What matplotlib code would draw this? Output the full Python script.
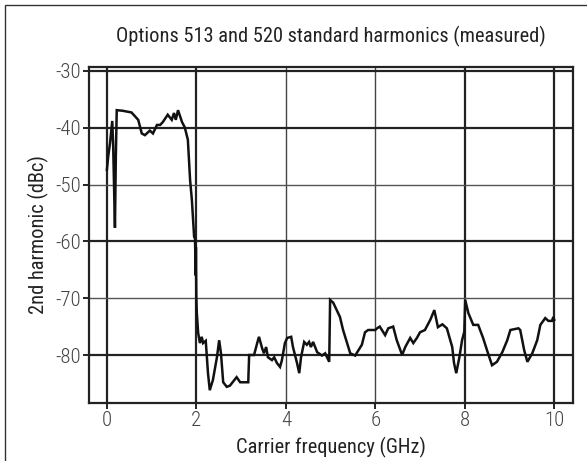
import matplotlib
matplotlib.use("Agg")
import matplotlib.pyplot as plt
from matplotlib.patches import Rectangle
from matplotlib import font_manager

names = {f.name for f in font_manager.fontManager.ttflist}
fam = ['Roboto Condensed'] if 'Roboto Condensed' in names else ['Roboto']
plt.rcParams['font.family'] = fam + ['DejaVu Sans']
condensed = fam[0] == 'Roboto Condensed'

freq_ghz = [0.0, 0.03, 0.07, 0.12, 0.14, 0.18, 0.2, 0.22, 0.35, 0.55, 0.7, 0.78, 0.85, 0.96, 1.03,
            1.12, 1.19, 1.25, 1.36, 1.45, 1.5, 1.54, 1.59, 1.68, 1.74, 1.81, 1.86, 1.9, 1.95, 1.97,
            1.985, 1.99, 2.0, 2.01, 2.04, 2.08, 2.12, 2.15, 2.21, 2.26, 2.3, 2.37, 2.46, 2.51, 2.55,
            2.6, 2.68, 2.75, 2.9, 2.98, 3.16, 3.18, 3.29, 3.36, 3.4, 3.47, 3.51, 3.56, 3.6, 3.69,
            3.74, 3.8, 3.87, 3.91, 3.98, 4.03, 4.12, 4.16, 4.25, 4.3, 4.34, 4.41, 4.47, 4.52, 4.56,
            4.61, 4.7, 4.81, 4.88, 4.97, 4.99, 5.06, 5.21, 5.28, 5.37, 5.44, 5.55, 5.7, 5.77, 5.84,
            6.0, 6.04, 6.1, 6.22, 6.29, 6.4, 6.48, 6.6, 6.67, 6.78, 6.85, 6.93, 7.0, 7.11, 7.23,
            7.32, 7.4, 7.5, 7.6, 7.72, 7.76, 7.81, 7.88, 7.94, 7.99, 8.01, 8.08, 8.19, 8.3, 8.41,
            8.52, 8.61, 8.72, 8.84, 8.95, 9.02, 9.2, 9.24, 9.33, 9.4, 9.51, 9.62, 9.69, 9.8, 9.87,
            9.95, 9.98, 10.0]
harmonic_dbc = [-47.4, -45.0, -42.7, -38.8, -43.0, -57.6, -45.0, -36.9, -37.0, -37.3, -38.6, -41.0, -41.3, -40.5, -41.0,
                -39.5, -39.5, -39.0, -37.7, -38.6, -37.4, -38.6, -36.9, -39.0, -39.9, -42.1, -49.2, -52.7, -59.2, -59.5,
                -66.0, -61.0, -70.0, -72.6, -76.1, -77.9, -76.8, -77.9, -77.5, -83.2, -86.2, -84.4, -80.4, -77.4, -79.7,
                -84.8, -85.6, -85.4, -83.9, -84.8, -84.8, -80.0, -80.0, -77.9, -76.8, -78.8, -79.7, -78.6, -80.4, -80.9,
                -80.4, -81.4, -82.1, -81.0, -77.9, -77.0, -76.8, -78.6, -81.4, -83.2, -80.4, -77.7, -78.2, -77.7, -78.6,
                -77.7, -79.5, -80.1, -79.7, -81.2, -70.3, -70.8, -73.3, -75.6, -77.9, -79.7, -80.1, -78.2, -76.0, -75.6,
                -75.6, -75.3, -75.0, -76.5, -75.3, -75.0, -77.4, -80.0, -78.6, -77.0, -77.9, -77.0, -76.0, -75.6, -73.8,
                -72.1, -75.1, -74.6, -75.3, -78.6, -81.4, -83.2, -80.4, -77.4, -75.9, -70.3, -72.6, -74.7, -74.7, -77.0,
                -79.7, -81.8, -81.2, -79.5, -77.4, -75.6, -75.3, -75.6, -79.2, -81.2, -79.7, -77.4, -74.7, -73.5, -74.0,
                -74.0, -73.3, -73.8]

x_ticks = [0, 2, 4, 6, 8, 10]
y_ticks = [-30, -40, -50, -60, -70, -80]
title = "Options 513 and 520 standard harmonics (measured)"
x_label = "Carrier frequency (GHz)"
y_label = "2nd harmonic (dBc)"

fs = 14.7 if condensed else 13.3
tfs = 15 if condensed else 13.3

fig = plt.figure(figsize=(5.87, 4.61), dpi=100)
ax = fig.add_axes([89/587, 1-403/461, (573-89)/587, (403-67)/461])

ax.plot(freq_ghz, harmonic_dbc, color='#111111', lw=1.8, zorder=3, solid_joinstyle='miter')

ax.set_xlim(-0.4, 10.42)
ax.set_ylim(-88.45, -29.3)
ax.set_xticks(x_ticks)
ax.set_yticks(y_ticks)
ax.set_xticklabels([str(t) for t in x_ticks])
ax.set_yticklabels([str(t) for t in y_ticks])
ax.grid(True, color='#222222', lw=1.6, zorder=1)

thin_x = {4, 6}
thin_y = {-50, -70}
for t, gl in zip(x_ticks, ax.xaxis.get_gridlines()):
    if t in thin_x:
        gl.set_linewidth(1.0); gl.set_color('#444444')
for t, gl in zip(y_ticks, ax.yaxis.get_gridlines()):
    if t in thin_y:
        gl.set_linewidth(1.0); gl.set_color('#555555')

for s in ax.spines.values():
    s.set_linewidth(1.6)
    s.set_color('#222222')

ax.tick_params(axis='both', direction='out', length=4, width=1.4, color='#222222',
               labelsize=tfs, labelcolor='#444444', pad=2)
for lab in ax.get_xticklabels() + ax.get_yticklabels():
    lab.set_fontweight('light')
ax.set_title(title, fontsize=fs, color='#222222', pad=18)
ax.set_xlabel(x_label, fontsize=fs, color='#222222', labelpad=5)
ax.set_ylabel(y_label, fontsize=fs, color='#222222', labelpad=4)

fig.patches.append(Rectangle((5/587, -0.1), 1.2, 1.1 - 5/461, transform=fig.transFigure,
                             fill=False, edgecolor='#333333', lw=1.0))

fig.savefig("out.png", dpi=100)
